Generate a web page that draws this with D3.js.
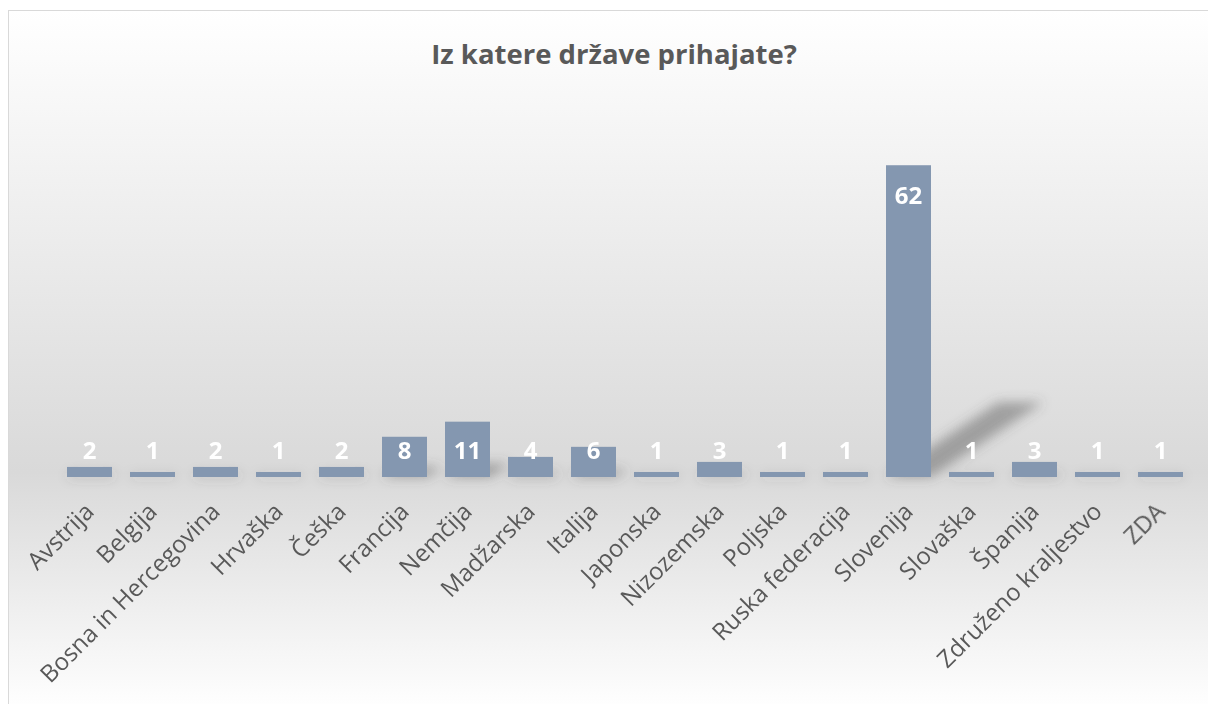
<!DOCTYPE html>
<html>
<head>
<meta charset="utf-8">
<script src="https://cdn.jsdelivr.net/npm/d3@7"></script>
<style>
  body { margin: 0; background: #fff; }
  text { font-family: "Open Sans", sans-serif; }
</style>
</head>
<body>
<div id="bar-chart"></div>
<script>
const countries = ['Avstrija', 'Belgija', 'Bosna in Hercegovina', 'Hrvaška', 'Češka', 'Francija',
  'Nemčija', 'Madžarska', 'Italija', 'Japonska', 'Nizozemska', 'Poljska', 'Ruska federacija',
  'Slovenija', 'Slovaška', 'Španija', 'Združeno kraljestvo', 'ZDA'];
const counts = [2, 1, 2, 1, 2, 8, 11, 4, 6, 1, 3, 1, 1, 62, 1, 3, 1, 1];
const title = 'Iz katere države prihajate?';

class Chart {

  constructor(element) {
    this.element = element;
    this.data = countries.map((c, i) => ({ name: c, value: counts[i] }));
    this.createChart();
  }

  createChart() {
    this.width = 1208;
    this.height = 704;

    this.svg = d3.select(this.element)
      .append('svg')
        .attr('width', this.width)
        .attr('height', this.height);

    this.addBackground();
    this.createScales();
    this.addShadows();
    this.addBars();
    this.addLabels();
    this.addAxis();

    this.svg.append('text')
      .attr('x', 614)
      .attr('y', 64)
      .attr('text-anchor', 'middle')
      .attr('font-size', 27.5)
      .attr('font-weight', 'bold')
      .attr('fill', '#595959')
      .text(title);
  }

  addBackground() {
    const defs = this.svg.append('defs');
    const grad = defs.append('linearGradient')
      .attr('id', 'bg')
      .attr('gradientUnits', 'userSpaceOnUse')
      .attr('x1', 0).attr('y1', 10)
      .attr('x2', 0).attr('y2', 710);
    grad.append('stop').attr('offset', '0%').attr('stop-color', '#ffffff');
    grad.append('stop').attr('offset', '66%').attr('stop-color', '#d9d9d9');
    grad.append('stop').attr('offset', '100%').attr('stop-color', '#ffffff');

    defs.append('filter')
      .attr('id', 'blur')
      .attr('x', '-50%').attr('y', '-50%')
      .attr('width', '200%').attr('height', '200%')
      .append('feGaussianBlur')
        .attr('stdDeviation', 6);

    this.svg.append('rect')
      .attr('x', 8.5)
      .attr('y', 10.5)
      .attr('width', 1210)
      .attr('height', 710)
      .attr('fill', 'url(#bg)')
      .attr('stroke', '#d9d9d9');
  }

  createScales() {
    this.xScale = d3.scaleBand()
      .domain(countries)
      .range([58, 1192])
      .paddingInner(0.286)
      .paddingOuter(0.143);
    this.yScale = d3.scaleLinear()
      .domain([0, 70])
      .range([477, 125]);
  }

  addShadows() {
    const x = this.xScale, y = this.yScale;
    const base = y(0);
    this.svg.append('g')
      .attr('filter', 'url(#blur)')
      .selectAll('path')
      .data(this.data)
      .join('path')
        .attr('fill', '#555')
        .attr('opacity', 0.45)
        .attr('d', d => {
          const dy = (base - y(d.value)) * 0.24;
          const dx = dy * 1.5;
          const x0 = x(d.name), x1 = x0 + x.bandwidth();
          return `M${x0},${base}L${x1},${base}L${x1 + dx},${base - dy}L${x0 + dx},${base - dy}Z`;
        });
  }

  addBars() {
    this.svg.append('g')
      .selectAll('rect')
      .data(this.data)
      .join('rect')
        .attr('x', d => this.xScale(d.name))
        .attr('y', d => this.yScale(d.value))
        .attr('width', this.xScale.bandwidth())
        .attr('height', d => this.yScale(0) - this.yScale(d.value))
        .attr('fill', '#8497b0');
  }

  addLabels() {
    const y = this.yScale;
    this.svg.append('g')
      .selectAll('text')
      .data(this.data)
      .join('text')
        .attr('x', d => this.xScale(d.name) + this.xScale.bandwidth() / 2)
        .attr('y', d => Math.min(y(d.value) + 30, y(0) - 27))
        .attr('dy', '0.36em')
        .attr('text-anchor', 'middle')
        .attr('font-size', 24)
        .attr('font-weight', 'bold')
        .attr('fill', '#ffffff')
        .text(d => d.value);
  }

  addAxis() {
    const xAxis = d3.axisBottom(this.xScale).tickSize(0).tickPadding(0);
    const g = this.svg.append('g')
      .attr('transform', `translate(0, ${this.yScale(0)})`)
      .call(xAxis);
    g.select('.domain').remove();
    g.selectAll('text')
      .attr('font-family', '"Open Sans", sans-serif')
      .attr('font-size', 24)
      .attr('fill', '#595959')
      .attr('text-anchor', 'end')
      .attr('dy', 0)
      .attr('y', 0)
      .attr('transform', 'translate(6, 36) rotate(-45)');
  }

}

new Chart(document.getElementById('bar-chart'));
</script>
</body>
</html>
